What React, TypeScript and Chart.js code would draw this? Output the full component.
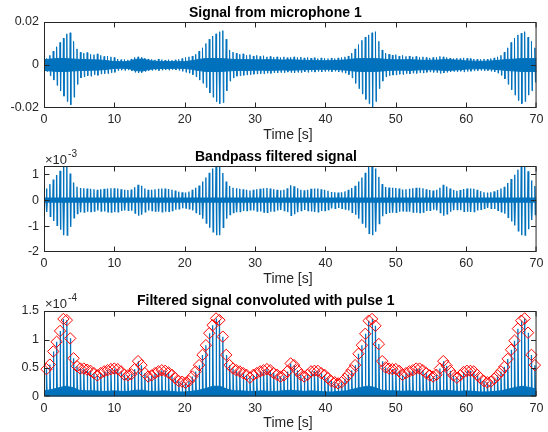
import React, { useEffect, useRef } from "react";
import { Chart, registerables } from "chart.js";

Chart.register(...registerables);

// ---------- data ----------
// pulse grid (seconds): first pulse and spacing between pulses
const PULSE_START = 0.35;
const PULSE_PERIOD = 0.482;

const xTicks = [0, 10, 20, 30, 40, 50, 60, 70];
const micYTicks = [-0.02, 0, 0.02];
const bandYTicks = [-2, -1, 0, 1];
const convYTicks = [0, 0.5, 1, 1.5];

const titles = [
  "Signal from microphone 1",
  "Bandpass filtered signal",
  "Filtered signal convoluted with pulse 1",
];
const xLabel = "Time [s]";

// Panel 1: positive / negative spike heights per pulse (units of 1e-3)
const micUpE3 = [
  3.0, 4.5, 6.5, 8.5, 10.5, 12.5, 14.5, 15.0, 11.0, 7.5, 6.0,
  5.5, 5.8, 5.0, 4.8, 5.2, 4.5, 4.0, 4.2, 3.8, 3.5,
  2.8, 2.5, 2.6, 2.4, 2.8,
  3.5, 3.8, 3.6, 3.2, 2.8,
  2.6, 2.4, 2.8, 2.5, 2.3, 2.5, 2.2, 2.4, 2.6, 3.0,
  3.5, 3.8, 4.2, 5.0,
  6.5, 8.0, 10.0, 12.0, 13.5, 14.5, 15.5, 16.0, 12.0, 7.0, 6.0,
  5.5, 5.0, 5.2, 4.5, 4.8, 4.2, 4.5, 4.0, 4.3, 3.8, 4.0, 3.6, 3.8, 3.5, 3.8, 3.4, 3.6,
  3.8, 3.5, 3.7, 3.3, 3.5, 3.2, 3.4, 3.0, 3.3, 3.1, 3.0, 3.2, 3.0, 3.3, 3.5, 3.8, 4.2,
  5.5, 7.5, 9.5, 11.5, 13.0, 14.0, 15.0, 15.5, 11.0, 7.0, 5.5,
  5.0, 4.6, 4.8, 4.2, 4.5, 4.0, 4.2, 3.8, 4.0, 3.6, 3.8, 3.5, 3.3, 3.5, 3.6, 4.0, 3.8,
  3.5, 3.2, 3.0, 3.2, 3.0, 3.3, 3.1, 3.0, 2.8, 2.7, 2.6, 2.8, 2.7, 3.0, 3.3, 3.8, 4.5,
  6.0, 8.0, 10.5, 12.5, 14.0, 14.8, 15.5, 13.0, 11.0, 8.0,
];
const micDownE3 = [
  3.0, 5.0, 7.0, 9.5, 12.0, 14.5, 17.0, 18.5, 15.0, 9.0, 6.0,
  5.5, 5.0, 5.2, 4.5, 4.8, 4.2, 4.0, 4.0, 3.6, 3.4,
  2.6, 2.4, 2.5, 2.3, 2.7,
  3.4, 3.6, 3.5, 3.0, 2.6,
  2.5, 2.3, 2.6, 2.4, 2.2, 2.4, 2.1, 2.3, 2.5, 2.9,
  3.4, 3.8, 4.5, 5.5,
  7.0, 8.5, 10.5, 13.0, 15.0, 17.0, 18.0, 17.5, 12.0, 7.5, 6.0,
  5.2, 5.0, 4.8, 4.6, 4.5, 4.3, 4.2, 4.0, 4.1, 3.8, 3.9, 3.6, 3.7, 3.5, 3.6, 3.3, 3.5,
  3.6, 3.4, 3.5, 3.2, 3.4, 3.1, 3.3, 3.0, 3.2, 3.0, 2.9, 3.1, 2.9, 3.2, 3.4, 3.8, 4.5,
  6.0, 8.5, 11.0, 13.5, 16.0, 18.0, 19.5, 17.0, 11.0, 7.5, 5.5,
  5.0, 4.7, 4.6, 4.3, 4.4, 4.0, 4.1, 3.8, 3.9, 3.6, 3.7, 3.4, 3.2, 3.4, 3.5, 3.9, 3.7,
  3.4, 3.1, 3.0, 3.1, 2.9, 3.2, 3.0, 2.9, 2.7, 2.6, 2.5, 2.7, 2.6, 2.9, 3.2, 3.8, 4.8,
  6.5, 9.0, 11.5, 14.0, 16.5, 18.0, 17.0, 14.0, 12.0, 8.0,
];
// Panel 1: half-width of the dense noise band, one value per second t = 0..70 (units of 1e-3)
const micNoiseE3 = [
  2.5, 2.8, 3.0, 3.0, 2.8, 2.6, 2.5, 2.4, 2.3, 2.0,
  1.6, 1.5, 1.6, 2.6, 2.8, 2.0, 1.7, 1.6, 1.6, 1.5,
  1.6, 2.0, 2.6, 3.0, 3.0, 3.0, 2.8, 2.6, 2.5, 2.5,
  2.4, 2.4, 2.5, 2.4, 2.3, 2.4, 2.3, 2.2, 2.1, 2.0,
  2.0, 2.0, 2.2, 2.4, 2.8, 3.0, 3.0, 3.0, 2.8, 2.5,
  2.4, 2.4, 2.5, 2.3, 2.2, 2.2, 2.3, 2.5, 2.4, 2.2,
  1.9, 1.8, 1.7, 1.8, 2.0, 2.3, 2.6, 2.8, 3.0, 3.0,
  3.0,
];

// Panel 2: spike amplitude per pulse (units of 1e-3)
const bandE3 = [
  0.45, 0.62, 0.80, 0.97, 1.14, 1.35, 1.35, 1.03, 0.68, 0.52, 0.47,
  0.46, 0.45, 0.44, 0.42, 0.40, 0.42, 0.44, 0.45, 0.46, 0.46,
  0.45, 0.42, 0.40, 0.39, 0.41,
  0.50, 0.60, 0.56, 0.45, 0.40,
  0.40, 0.42, 0.44, 0.45, 0.45, 0.43, 0.40, 0.37, 0.33, 0.31,
  0.30, 0.33, 0.40, 0.48,
  0.57, 0.72, 0.88, 1.06, 1.22, 1.35, 1.35, 1.05, 0.72, 0.55, 0.48,
  0.46, 0.44, 0.42, 0.40, 0.37, 0.40, 0.42, 0.44, 0.46, 0.47, 0.45, 0.42, 0.40, 0.38, 0.40, 0.46, 0.58,
  0.54, 0.46, 0.40, 0.38, 0.40, 0.44, 0.45, 0.45, 0.42, 0.40, 0.36, 0.32, 0.31, 0.30, 0.31, 0.34, 0.40,
  0.47, 0.56, 0.72, 0.88, 1.06, 1.28, 1.35, 1.22, 0.90, 0.62, 0.51,
  0.49, 0.48, 0.47, 0.45, 0.41, 0.42, 0.44, 0.46, 0.48, 0.48, 0.46, 0.42, 0.39, 0.37, 0.40, 0.48, 0.60,
  0.53, 0.45, 0.39, 0.36, 0.39, 0.43, 0.45, 0.45, 0.44, 0.40, 0.35, 0.31, 0.30, 0.31, 0.34, 0.39, 0.45,
  0.52, 0.66, 0.82, 0.98, 1.18, 1.35, 1.35, 1.12, 0.76, 0.55,
];
const bandCoreE3 = 0.1; // half-width of the solid band around zero

// Panel 3: peak value per pulse (red diamonds, units of 1e-4)
const convE4 = [
  0.48, 0.56, 0.79, 0.96, 1.15, 1.36, 1.34, 1.02, 0.67, 0.53, 0.49,
  0.49, 0.47, 0.45, 0.41, 0.37, 0.41, 0.44, 0.46, 0.48, 0.49,
  0.48, 0.44, 0.38, 0.37, 0.39,
  0.48, 0.62, 0.55, 0.41, 0.35,
  0.37, 0.41, 0.44, 0.46, 0.45, 0.42, 0.38, 0.32, 0.27, 0.26,
  0.24, 0.27, 0.35, 0.44,
  0.55, 0.73, 0.90, 1.11, 1.25, 1.37, 1.34, 1.05, 0.73, 0.55, 0.49,
  0.46, 0.44, 0.41, 0.38, 0.33, 0.38, 0.41, 0.44, 0.46, 0.48, 0.46, 0.41, 0.38, 0.35, 0.37, 0.44, 0.58,
  0.55, 0.46, 0.38, 0.35, 0.38, 0.44, 0.45, 0.45, 0.41, 0.38, 0.32, 0.27, 0.25, 0.23, 0.25, 0.31, 0.38,
  0.46, 0.55, 0.75, 0.90, 1.10, 1.33, 1.36, 1.24, 0.92, 0.62, 0.51,
  0.49, 0.48, 0.48, 0.45, 0.38, 0.41, 0.44, 0.46, 0.49, 0.49, 0.46, 0.41, 0.37, 0.35, 0.38, 0.49, 0.62,
  0.54, 0.45, 0.37, 0.33, 0.37, 0.43, 0.45, 0.45, 0.44, 0.38, 0.32, 0.27, 0.25, 0.26, 0.31, 0.37, 0.44,
  0.52, 0.66, 0.82, 0.98, 1.19, 1.33, 1.37, 1.12, 0.73, 0.55,
];
// Panel 3: height of the dense floor, one value per second t = 0..70 (units of 1e-4)
const convFloorE4 = [
  0.10, 0.12, 0.15, 0.18, 0.16, 0.11, 0.10, 0.10, 0.09, 0.09,
  0.10, 0.09, 0.09, 0.11, 0.11, 0.09, 0.09, 0.10, 0.09, 0.08,
  0.08, 0.09, 0.11, 0.14, 0.18, 0.18, 0.13, 0.10, 0.10, 0.09,
  0.09, 0.10, 0.09, 0.09, 0.10, 0.11, 0.10, 0.09, 0.10, 0.09,
  0.08, 0.08, 0.09, 0.10, 0.13, 0.16, 0.18, 0.16, 0.11, 0.10,
  0.10, 0.09, 0.10, 0.09, 0.09, 0.10, 0.10, 0.11, 0.10, 0.09,
  0.10, 0.09, 0.08, 0.08, 0.09, 0.10, 0.13, 0.16, 0.18, 0.16,
  0.13,
];

// ---------- styling ----------
const BLUE = "#0072BD";
const RED = "#ff0000";
const AX = "#262626";
const FONT = "'Liberation Sans', Arial, Helvetica, sans-serif";
const W = 548;
const H = 144;
const PLOT_LEFT = 44;
const PLOT_RIGHT = 540;

const pulseTimes = convE4.map((_, i) => PULSE_START + i * PULSE_PERIOD);
const secondTimes = micNoiseE3.map((_, i) => i);

type PanelCfg = {
  top: number;
  bottom: number;
  yMin: number;
  yMax: number;
  yTicks: number[];
  fmt: (v: number) => string;
  title: string;
  titleX: number;
  exponent?: string;
};

function framePlugin(cfg: PanelCfg) {
  return {
    id: "matlabFrame",
    afterDraw(chart: any) {
      const { ctx, chartArea: a } = chart;
      const xs = chart.scales.x;
      const ys = chart.scales.y;
      const l = a.left + 0.5;
      const r = a.right - 0.5;
      const t = a.top + 0.5;
      const b = a.bottom - 0.5;
      ctx.save();
      ctx.strokeStyle = AX;
      ctx.lineWidth = 1;
      ctx.beginPath();
      const tl = 5;
      xTicks.forEach((v) => {
        let px = Math.round(xs.getPixelForValue(v)) + 0.5;
        px = Math.min(Math.max(px, l), r);
        ctx.moveTo(px, b);
        ctx.lineTo(px, b - tl);
        ctx.moveTo(px, t);
        ctx.lineTo(px, t + tl);
      });
      cfg.yTicks.forEach((v) => {
        let py = Math.round(ys.getPixelForValue(v)) + 0.5;
        py = Math.min(Math.max(py, t), b);
        ctx.moveTo(l, py);
        ctx.lineTo(l + tl, py);
        ctx.moveTo(r, py);
        ctx.lineTo(r - tl, py);
      });
      ctx.stroke();
      ctx.strokeRect(l, t, r - l, b - t);

      ctx.textBaseline = "alphabetic";
      ctx.fillStyle = "#000";
      ctx.font = `bold 14px ${FONT}`;
      ctx.textAlign = "left";
      ctx.fillText(cfg.title, cfg.titleX, 16.5);

      ctx.fillStyle = AX;
      ctx.font = `14px ${FONT}`;
      ctx.textAlign = "center";
      ctx.fillText(xLabel, 288, 138.5);

      if (cfg.exponent) {
        ctx.textAlign = "left";
        ctx.font = `13px ${FONT}`;
        const base = "\u00d710";
        ctx.fillText(base, a.left + 1, 19.5);
        const w = ctx.measureText(base).width;
        ctx.font = `10px ${FONT}`;
        ctx.fillText(cfg.exponent, a.left + 1 + w + 1, 12.8);
      }
      ctx.restore();
    },
  };
}

function makeChart(canvas: HTMLCanvasElement, cfg: PanelCfg, datasets: any[]) {
  const tickFont = { family: FONT, size: 12.5 };
  return new Chart(canvas, {
    type: "line",
    data: { datasets },
    options: {
      animation: false,
      responsive: false,
      devicePixelRatio: 1,
      events: [],
      layout: { padding: { left: 0, right: W - PLOT_RIGHT, top: cfg.top, bottom: 0 } },
      plugins: {
        legend: { display: false },
        tooltip: { enabled: false },
        title: { display: false },
      },
      elements: { point: { radius: 0 }, line: { tension: 0 } },
      scales: {
        x: {
          type: "linear",
          min: xTicks[0],
          max: xTicks[xTicks.length - 1],
          afterBuildTicks: (s: any) => {
            s.ticks = xTicks.map((value) => ({ value }));
          },
          afterFit: (s: any) => {
            s.height = H - cfg.bottom;
          },
          grid: { display: false, drawTicks: false },
          border: { display: false },
          ticks: {
            padding: 4.5,
            font: tickFont,
            color: AX,
            maxRotation: 0,
            autoSkip: false,
            callback: (v: any) => String(v),
          },
        },
        y: {
          type: "linear",
          min: cfg.yMin,
          max: cfg.yMax,
          afterBuildTicks: (s: any) => {
            s.ticks = cfg.yTicks.map((value) => ({ value }));
          },
          afterFit: (s: any) => {
            s.width = PLOT_LEFT;
          },
          grid: { display: false, drawTicks: false },
          border: { display: false },
          ticks: {
            padding: 5,
            font: tickFont,
            color: AX,
            autoSkip: false,
            callback: (v: any) => cfg.fmt(Number(v)),
          },
        },
      },
    } as any,
    plugins: [framePlugin(cfg)],
  });
}

function micChart(canvas: HTMLCanvasElement) {
  const trace: { x: number; y: number }[] = [];
  pulseTimes.forEach((t, i) => {
    trace.push({ x: t - 0.06, y: 0 });
    trace.push({ x: t, y: micUpE3[i] * 1e-3 });
    trace.push({ x: t + 0.08, y: -micDownE3[i] * 1e-3 });
    trace.push({ x: t + 0.14, y: 0 });
  });
  const bandUp = secondTimes.map((t, i) => ({ x: t, y: micNoiseE3[i] * 1e-3 }));
  const bandDn = secondTimes.map((t, i) => ({ x: t, y: -micNoiseE3[i] * 1e-3 }));
  return makeChart(
    canvas,
    {
      top: 22,
      bottom: 108,
      yMin: micYTicks[0],
      yMax: micYTicks[micYTicks.length - 1],
      yTicks: micYTicks,
      fmt: (v) => (v === 0 ? "0" : v.toFixed(2)),
      title: titles[0],
      titleX: 189,
    },
    [
      { data: trace, borderColor: BLUE, borderWidth: 1, pointRadius: 0, fill: false },
      { data: bandUp, borderColor: BLUE, borderWidth: 1, backgroundColor: BLUE, pointRadius: 0, fill: "origin" },
      { data: bandDn, borderColor: BLUE, borderWidth: 1, backgroundColor: BLUE, pointRadius: 0, fill: "origin" },
    ]
  );
}

function bandChart(canvas: HTMLCanvasElement) {
  const trace: { x: number; y: number }[] = [];
  pulseTimes.forEach((t, i) => {
    trace.push({ x: t - 0.05, y: 0 });
    trace.push({ x: t, y: bandE3[i] });
    trace.push({ x: t + 0.07, y: -bandE3[i] });
    trace.push({ x: t + 0.12, y: 0 });
  });
  const x0 = xTicks[0];
  const x1 = xTicks[xTicks.length - 1];
  return makeChart(
    canvas,
    {
      top: 22,
      bottom: 108,
      yMin: bandYTicks[0],
      yMax: 1.32,
      yTicks: bandYTicks,
      fmt: (v) => String(v),
      title: titles[1],
      titleX: 195,
      exponent: "-3",
    },
    [
      { data: trace, borderColor: BLUE, borderWidth: 1.4, pointRadius: 0, fill: false },
      {
        data: [{ x: x0, y: bandCoreE3 }, { x: x1, y: bandCoreE3 }],
        borderWidth: 0, backgroundColor: BLUE, pointRadius: 0, fill: "origin",
      },
      {
        data: [{ x: x0, y: -bandCoreE3 }, { x: x1, y: -bandCoreE3 }],
        borderWidth: 0, backgroundColor: BLUE, pointRadius: 0, fill: "origin",
      },
    ]
  );
}

function convChart(canvas: HTMLCanvasElement) {
  const stems: { x: number; y: number }[] = [];
  pulseTimes.forEach((t, i) => {
    stems.push({ x: t, y: 0 });
    stems.push({ x: t, y: convE4[i] });
    stems.push({ x: t + 0.1, y: 0 });
  });
  const diamonds = pulseTimes.map((t, i) => ({ x: t, y: convE4[i] }));
  const floor = convFloorE4.map((v, i) => ({ x: secondTimes[i], y: v }));
  return makeChart(
    canvas,
    {
      top: 23,
      bottom: 108.5,
      yMin: convYTicks[0],
      yMax: convYTicks[convYTicks.length - 1],
      yTicks: convYTicks,
      fmt: (v) => String(v),
      title: titles[2],
      titleX: 137,
      exponent: "-4",
    },
    [
      {
        data: diamonds,
        showLine: false,
        pointStyle: "rectRot",
        pointRadius: 5.7,
        pointBorderColor: RED,
        pointBackgroundColor: "rgba(0,0,0,0)",
        pointBorderWidth: 1,
        clip: false,
      },
      { data: stems, borderColor: BLUE, borderWidth: 1.3, pointRadius: 0, fill: false },
      { data: floor, borderColor: BLUE, borderWidth: 1, backgroundColor: BLUE, pointRadius: 0, fill: "origin" },
    ]
  );
}

export default function App() {
  const r1 = useRef<HTMLCanvasElement>(null);
  const r2 = useRef<HTMLCanvasElement>(null);
  const r3 = useRef<HTMLCanvasElement>(null);

  useEffect(() => {
    document.body.style.margin = "0";
    const charts = [
      micChart(r1.current as HTMLCanvasElement),
      bandChart(r2.current as HTMLCanvasElement),
      convChart(r3.current as HTMLCanvasElement),
    ];
    return () => charts.forEach((c) => c.destroy());
  }, []);

  const cs = (top: number): React.CSSProperties => ({
    position: "absolute",
    left: 0,
    top,
    width: W,
    height: H,
  });

  return (
    <div style={{ position: "relative", width: W, height: 3 * H, background: "#fff" }}>
      <canvas ref={r1} width={W} height={H} style={cs(0)} />
      <canvas ref={r2} width={W} height={H} style={cs(H)} />
      <canvas ref={r3} width={W} height={H} style={cs(2 * H)} />
    </div>
  );
}
